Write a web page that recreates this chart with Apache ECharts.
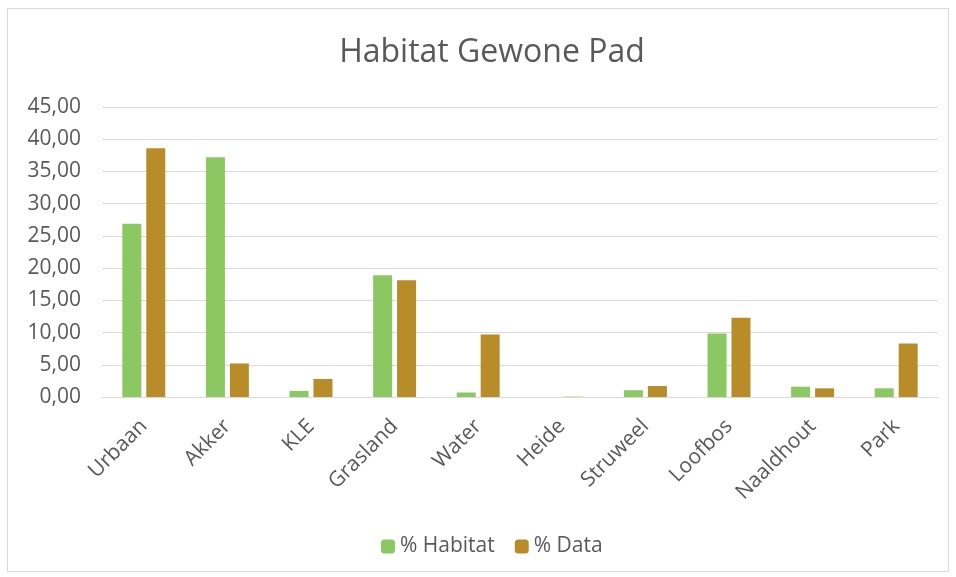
<!DOCTYPE html>
<html><head><meta charset="utf-8">
<script src="https://cdn.jsdelivr.net/npm/echarts@6/dist/echarts.min.js"></script>
<style>html,body{margin:0;padding:0;background:#fff}#c{width:956px;height:577px}</style>
</head><body><div id="c"></div>
<script>
const categories = ['Urbaan','Akker','KLE','Grasland','Water','Heide','Struweel','Loofbos','Naaldhout','Park'];
const habitat = [26.9, 37.2, 0.95, 18.9, 0.7, 0, 1.05, 9.85, 1.6, 1.35];
const data = [38.6, 5.2, 2.8, 18.1, 9.7, 0.05, 1.7, 12.3, 1.35, 8.3];
const seriesNames = ['% Habitat', '% Data'];
const FONT = '"Open Sans", sans-serif';
const chart = echarts.init(document.getElementById('c'));
chart.setOption({
  animation: false,
  backgroundColor: '#fff',
  textStyle: {fontFamily: FONT},
  title: {text: 'Habitat Gewone Pad', left: 487, top: 32, textAlign: 'center',
    textStyle: {fontFamily: FONT, fontSize: 32, fontWeight: 'normal', color: '#595959'}},
  legend: {bottom: 15, left: 376, itemWidth: 14, itemHeight: 14, itemGap: 20,
    textStyle: {fontFamily: FONT, fontSize: 21, color: '#595959'},
    data: seriesNames},
  grid: {left: 102, right: 18, top: 107, bottom: 180},
  xAxis: {type: 'category', data: categories,
    axisLine: {lineStyle: {color: '#d9d9d9'}}, axisTick: {show: false},
    axisLabel: {rotate: 45, fontSize: 21, color: '#595959', margin: 26, interval: 0}},
  yAxis: {type: 'value', min: 0, max: 45, interval: 5,
    axisLine: {show: false}, axisTick: {show: false},
    splitLine: {lineStyle: {color: '#d9d9d9', width: 1}},
    axisLabel: {fontSize: 21, color: '#595959', margin: 21,
      formatter: v => v.toFixed(2).replace('.', ',')}},
  series: [
    {name: seriesNames[0], type: 'bar', data: habitat, barWidth: 19, barGap: '26%',
     itemStyle: {color: '#8cc862'}},
    {name: seriesNames[1], type: 'bar', data: data, barWidth: 19,
     itemStyle: {color: '#b98c2a'}}
  ],
  graphic: [{type: 'rect', shape: {x: 7.5, y: 8.5, width: 941, height: 563},
    style: {fill: 'none', stroke: '#d9d9d9', lineWidth: 1}, silent: true}]
});
</script></body></html>
